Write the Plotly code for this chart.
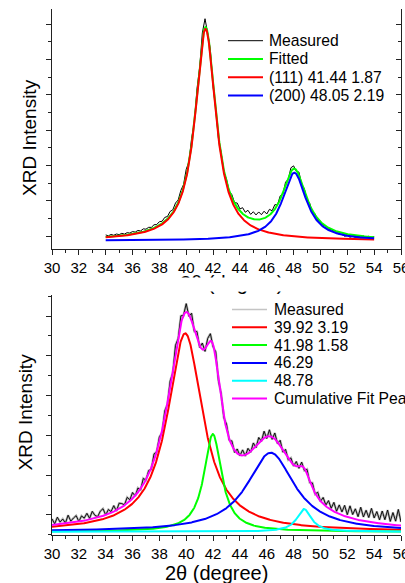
import numpy as np
import plotly.graph_objects as go

# ---------------- upper panel: (111)/(200) two-peak fit ----------------
upper_theta = np.linspace(34.0, 54.0, 101)
upper_measured = [
    30, 5, 44, 21, 56, 39, 75, 54, 95, 83,
    126, 111, 157, 143, 202, 193, 245, 244, 318, 324,
    405, 416, 527, 551, 695, 740, 933, 1020, 1291, 1457,
    1891, 2098, 2767, 3196, 4162, 4769, 5748, 6150, 5733, 5264,
    4230, 3602, 2766, 2363, 1822, 1609, 1271, 1171, 945, 932,
    766, 801, 672, 728, 612, 686, 596, 681, 603, 701,
    623, 755, 713, 887, 881, 1135, 1182, 1524, 1608, 1932,
    1985, 1828, 1808, 1464, 1342, 1015, 924, 674, 632, 444,
    421, 306, 288, 195, 190, 114, 110, 42, 43, -6,
    12, -35, -8, -38, -5, -36, -1, -32, -8, -41,
    -19,
]
upper_fit_theta = np.linspace(34.0, 54.0, 801)
upper_baseline = -130
upper_centers = [41.44, 48.05]
upper_fwhm = [1.87, 2.19]
upper_heights = [5990, 1920]
upper_names = ["(111) 41.44 1.87", "(200) 48.05 2.19"]
upper_colors = ["#ff0000", "#0000ff"]

# ---------------- lower panel: four-peak fit ----------------
lower_theta = np.linspace(30.0, 56.0, 131)
lower_measured = [
    -98, -222, -56, -178, -101, -203, -5, -155, -76, -16,
    -166, -24, -80, 42, -84, 92, -11, -42, 97, 158,
    1, 137, 84, 235, 98, 296, 287, 253, 443, 381,
    564, 476, 678, 631, 917, 877, 1117, 1148, 1533, 1588,
    1964, 2071, 2616, 2781, 3365, 3573, 4264, 4435, 5004, 5021,
    5311, 4993, 5069, 4616, 4610, 4210, 4320, 4111, 4438, 4556,
    4225, 4102, 3373, 3052, 2445, 2286, 1884, 1860, 1573, 1658,
    1487, 1636, 1480, 1675, 1576, 1810, 1693, 1948, 1849, 2106,
    1922, 2141, 1901, 2061, 1793, 1877, 1580, 1649, 1385, 1433,
    1229, 1344, 1173, 1328, 1119, 1148, 815, 806, 527, 569,
    341, 440, 250, 361, 167, 317, 93, 253, 76, 241,
    9, 230, 11, 155, -42, 194, -50, 118, -64, 165,
    -74, 86, -122, 100, -118, 124, -162, 61, -155, 140,
    -176,
]
lower_fit_theta = np.linspace(30.0, 56.0, 1041)
lower_baseline = -420
lower_centers = [39.92, 41.98, 46.29, 48.78]
lower_fwhm = [3.19, 1.58, 4.30, 1.30]
lower_heights = [4985, 2455, 1985, 570]
lower_names = ["39.92 3.19", "41.98 1.58", "46.29", "48.78"]
lower_colors = ["#ff0000", "#00ff00", "#0000ff", "#00ffff"]

x_ticks = list(range(30, 57, 2))
W, H = 405, 583
FONT = "Liberation Sans, Arial, sans-serif"


def lorentz(x, center, fwhm, height):
    return height / (1.0 + (2.0 * (x - center) / fwhm) ** 2)


def fx(px):
    return px / W


def fy(py):
    return 1.0 - py / H


fig = go.Figure()

# upper panel traces
fig.add_trace(go.Scatter(x=upper_theta, y=upper_measured, mode="lines",
                         line=dict(color="#000000", width=1),
                         xaxis="x", yaxis="y", name="Measured"))
upper_peaks = [lorentz(upper_fit_theta, c, w, h)
               for c, w, h in zip(upper_centers, upper_fwhm, upper_heights)]
fig.add_trace(go.Scatter(x=upper_fit_theta, y=upper_baseline + sum(upper_peaks),
                         mode="lines", line=dict(color="#00ff00", width=2),
                         xaxis="x", yaxis="y", name="Fitted"))
for pk, nm, col in zip(upper_peaks, upper_names, upper_colors):
    fig.add_trace(go.Scatter(x=upper_fit_theta, y=upper_baseline + pk, mode="lines",
                             line=dict(color=col, width=2),
                             xaxis="x", yaxis="y", name=nm))
# transparent copy of the measured data on the right-hand frame axis,
# so that this axis (inward ticks) is drawn
fig.add_trace(go.Scatter(x=upper_theta, y=upper_measured, mode="lines",
                         line=dict(color="rgba(0,0,0,0)", width=0), opacity=0,
                         xaxis="x", yaxis="y3", showlegend=False, hoverinfo="skip"))

# lower panel traces
fig.add_trace(go.Scatter(x=lower_theta, y=lower_measured, mode="lines",
                         line=dict(color="#b8b8b8", width=2.4),
                         xaxis="x2", yaxis="y2", name="Measured"))
fig.add_trace(go.Scatter(x=lower_theta, y=lower_measured, mode="lines",
                         line=dict(color="#000000", width=0.9),
                         xaxis="x2", yaxis="y2", name="Measured", showlegend=False))
lower_peaks = [lorentz(lower_fit_theta, c, w, h)
               for c, w, h in zip(lower_centers, lower_fwhm, lower_heights)]
for pk, nm, col in zip(lower_peaks, lower_names, lower_colors):
    fig.add_trace(go.Scatter(x=lower_fit_theta, y=lower_baseline + pk, mode="lines",
                             line=dict(color=col, width=2),
                             xaxis="x2", yaxis="y2", name=nm))
fig.add_trace(go.Scatter(x=lower_fit_theta, y=lower_baseline + sum(lower_peaks),
                         mode="lines", line=dict(color="#ff00ff", width=2),
                         xaxis="x2", yaxis="y2", name="Cumulative Fit Peak"))

axis_line = dict(showline=True, linecolor="#222222", linewidth=1.4, automargin=False,
                 showgrid=False, zeroline=False, ticklen=5, tickwidth=1.2,
                 tickcolor="#222222")
x_common = dict(axis_line, range=[30, 56], tickvals=x_ticks, ticks="outside",
                ticklabeloverflow="allow",
                tickfont=dict(family=FONT, size=15, color="#000"),
                minor=dict(ticks="outside", dtick=1, tick0=30, ticklen=3,
                           tickcolor="#222222", tickwidth=1.1))
y_common = dict(axis_line, ticks="outside", dtick=1000, tick0=0, showticklabels=False,
                minor=dict(ticks="outside", dtick=500, tick0=0, ticklen=3,
                           tickcolor="#222222", tickwidth=1.1))

upper_dom_y = [fy(249), fy(9)]
lower_dom_y = [fy(535), fy(295)]
dom_x = [fx(52), fx(401)]
upper_range = [-368, 6425]
lower_range = [-503, 5528]

fig.update_layout(
    template="none",
    width=W, height=H, autosize=False,
    margin=dict(l=0, r=0, t=0, b=0, pad=0),
    paper_bgcolor="white", plot_bgcolor="white",
    showlegend=False,
    xaxis=dict(x_common, domain=dom_x, anchor="y"),
    yaxis=dict(y_common, domain=upper_dom_y, range=upper_range, anchor="x",
               mirror=True),
    yaxis3=dict(axis_line, overlaying="y", side="right", anchor="x",
                range=upper_range, ticks="inside", dtick=1000, tick0=0,
                showticklabels=False,
                minor=dict(ticks="inside", dtick=500, tick0=0, ticklen=3,
                           tickcolor="#222222", tickwidth=1.1)),
    xaxis2=dict(x_common, domain=dom_x, anchor="y2"),
    yaxis2=dict(y_common, domain=lower_dom_y, range=lower_range, anchor="x2"),
)

annotations = []
shapes = []


def text(px, py, s, size, xanchor="left", angle=0):
    annotations.append(dict(x=fx(px), y=fy(py), xref="paper", yref="paper",
                            text=s, showarrow=False, xanchor=xanchor,
                            yanchor="middle", textangle=angle,
                            font=dict(family=FONT, size=size, color="#000")))


# axis titles
text(29.5, 137.5, "XRD Intensity", 19, xanchor="center", angle=-90)
text(25, 412.5, "XRD Intensity", 19, xanchor="center", angle=-90)
text(231, 283, "2θ (degree)", 20, xanchor="center")
text(216.5, 573, "2θ (degree)", 20, xanchor="center")

# strip separating the two panels (hides the lower part of the upper x title)
annotations.append(dict(x=0.5, y=fy(284.5), xref="paper", yref="paper", text=" ",
                        showarrow=False, xanchor="center", yanchor="middle",
                        width=W, height=13, bgcolor="white", borderpad=0))

# legend of the upper panel
upper_leg_names = ["Measured", "Fitted"] + upper_names
upper_leg_colors = ["#000000", "#00ff00"] + upper_colors
upper_leg_widths = [1, 2, 2, 2]
for i, (nm, col, lw) in enumerate(zip(upper_leg_names, upper_leg_colors, upper_leg_widths)):
    yy = 40.7 + 18.3 * i
    shapes.append(dict(type="line", xref="paper", yref="paper",
                       x0=fx(228), x1=fx(263), y0=fy(yy), y1=fy(yy),
                       line=dict(color=col, width=lw)))
    text(266.5, yy, nm, 15.7)

# legend of the lower panel
lower_leg_names = ["Measured"] + lower_names + ["Cumulative Fit Peak"]
lower_leg_colors = ["#c4c4c4"] + lower_colors + ["#ff00ff"]
lower_leg_widths = [1.5, 2, 2, 2, 2, 2]
for i, (nm, col, lw) in enumerate(zip(lower_leg_names, lower_leg_colors, lower_leg_widths)):
    yy = 309.5 + 17.8 * i
    shapes.append(dict(type="line", xref="paper", yref="paper",
                       x0=fx(232), x1=fx(267), y0=fy(yy), y1=fy(yy),
                       line=dict(color=col, width=lw)))
    text(271.5, yy, nm, 15.7)

fig.update_layout(annotations=annotations, shapes=shapes)

fig.write_html("out.html", config={"displayModeBar": False})
